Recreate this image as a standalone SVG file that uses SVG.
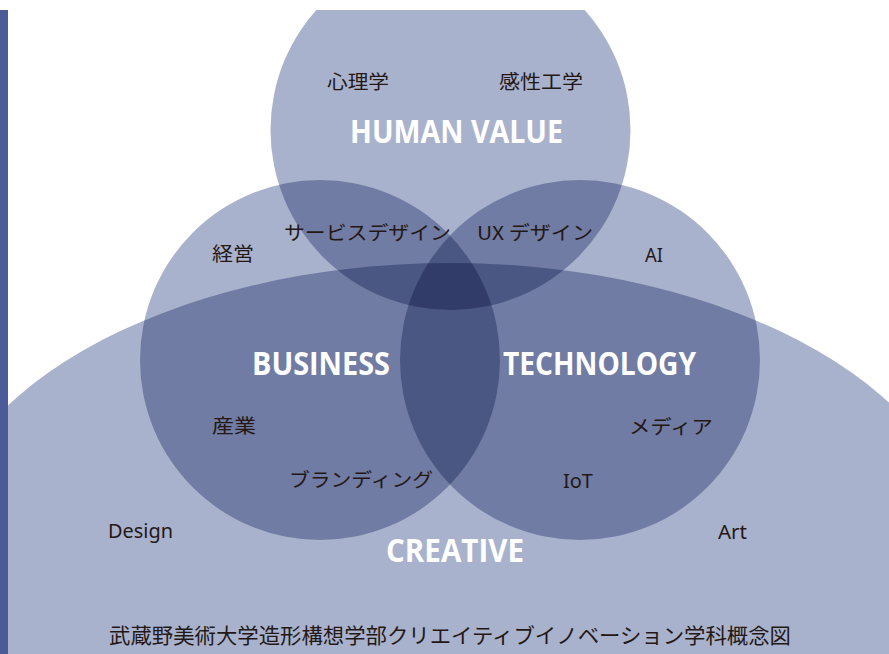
<svg xmlns="http://www.w3.org/2000/svg" width="889" height="654" viewBox="0 0 889 654">
  <defs>
    <clipPath id="panel">
      <rect x="0" y="10" width="889" height="644"/>
    </clipPath>
  </defs>
  <style>
    .area { fill: #a9b2cc; mix-blend-mode: multiply; }
    .title { font-family: "Open Sans", "Liberation Sans", sans-serif; font-weight: 700; font-size: 32px; fill: #ffffff; }
    .label { font-family: "Noto Sans CJK JP", "Noto Sans", sans-serif; font-size: 19px; fill: #231816; }
    .latin { font-family: "Noto Sans", "Liberation Sans", sans-serif; font-size: 19px; fill: #231816; }
    .caption { font-family: "Noto Sans CJK JP", sans-serif; font-size: 21px; fill: #231816; }
  </style>

  <rect x="0" y="0" width="889" height="654" fill="#ffffff"/>

  <!-- overlapping areas, multiplied so the overlaps darken -->
  <g clip-path="url(#panel)">
    <rect x="0" y="10" width="889" height="644" fill="#ffffff"/>
    <g id="creative">
      <ellipse class="area" cx="450" cy="562" rx="519" ry="299"/>
    </g>
    <g id="human-value">
      <circle class="area" cx="450.5" cy="130" r="180"/>
    </g>
    <g id="business">
      <circle class="area" cx="320" cy="360" r="180"/>
    </g>
    <g id="technology">
      <circle class="area" cx="580" cy="360" r="180"/>
    </g>
  </g>

  <!-- side bar -->
  <rect x="0" y="10" width="8" height="644" fill="#4a5b98"/>

  <!-- area titles -->
  <g id="titles">
    <text class="title" x="350" y="143" textLength="213" lengthAdjust="spacingAndGlyphs">HUMAN VALUE</text>
    <text class="title" x="252" y="375" textLength="138" lengthAdjust="spacingAndGlyphs">BUSINESS</text>
    <text class="title" x="503" y="375" textLength="193" lengthAdjust="spacingAndGlyphs">TECHNOLOGY</text>
    <text class="title" x="386" y="562" textLength="138" lengthAdjust="spacingAndGlyphs">CREATIVE</text>
  </g>

  <!-- field labels -->
  <g id="labels">
    <text class="label" x="327" y="89" textLength="62" lengthAdjust="spacingAndGlyphs">心理学</text>
    <text class="label" x="499" y="89" textLength="84" lengthAdjust="spacingAndGlyphs">感性工学</text>
    <text class="label" x="284" y="240" textLength="167" lengthAdjust="spacingAndGlyphs">サービスデザイン</text>
    <text class="label" x="477" y="240" textLength="116" lengthAdjust="spacingAndGlyphs">UX デザイン</text>
    <text class="label" x="212" y="261" textLength="42" lengthAdjust="spacingAndGlyphs">経営</text>
    <text class="latin" x="645" y="262" textLength="18" lengthAdjust="spacingAndGlyphs">AI</text>
    <text class="label" x="212" y="433" textLength="44" lengthAdjust="spacingAndGlyphs">産業</text>
    <text class="label" x="629" y="434" textLength="84" lengthAdjust="spacingAndGlyphs">メディア</text>
    <text class="label" x="289" y="487" textLength="144" lengthAdjust="spacingAndGlyphs">ブランディング</text>
    <text class="latin" x="563" y="488" textLength="30" lengthAdjust="spacingAndGlyphs">IoT</text>
    <text class="latin" x="108" y="538" textLength="65" lengthAdjust="spacingAndGlyphs">Design</text>
    <text class="latin" x="718" y="539" textLength="29" lengthAdjust="spacingAndGlyphs">Art</text>
  </g>

  <text class="caption" x="109" y="643" textLength="682" lengthAdjust="spacingAndGlyphs">武蔵野美術大学造形構想学部クリエイティブイノベーション学科概念図</text>
</svg>
